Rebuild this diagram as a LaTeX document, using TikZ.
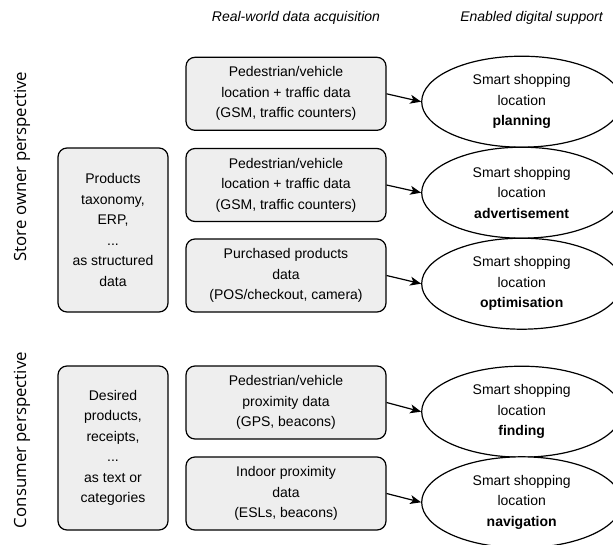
\documentclass[tikz,border=0pt]{standalone}
\usepackage{fontspec}
\setmainfont{Liberation Sans}
\newfontfamily\labfont{Open Sans}
\usetikzlibrary{shapes.geometric,arrows.meta}
\definecolor{boxfill}{HTML}{EEEEEE}
\tikzset{
  x=1pt,y=-1pt,
  txt/.style={font=\fontsize{14}{20.5}\selectfont, align=center},
  databox/.style={txt, draw=black, fill=boxfill, line width=1.2pt, rounded corners=9pt,
    minimum width=200pt, minimum height=73pt, inner sep=0pt},
  srcbox/.style={txt, draw=black, fill=boxfill, line width=1.2pt, rounded corners=9pt,
    minimum width=110pt, minimum height=164pt, inner sep=0pt},
  goal/.style={txt, ellipse, draw=black, fill=white, line width=1.2pt,
    minimum width=200pt, minimum height=91pt, inner sep=0pt},
  hdr/.style={font=\fontsize{14}{17}\selectfont\itshape},
  persp/.style={font=\labfont\fontsize{16.8}{20}\selectfont, rotate=90},
  arr/.style={line width=1.2pt, -{Stealth[length=11pt,width=9pt,inset=3pt]}}
}
\begin{document}
\begin{tikzpicture}
\useasboundingbox (0,0) rectangle (613,544);
\node[hdr] (h1) at (296,18) {Real-world data acquisition};
\node[hdr] (h2) at (531.5,18) {Enabled digital support};

\node[persp] (p1) at (22,166.5) {Store owner perspective};
\node[persp] (p2) at (22,440) {Consumer perspective};

\node[srcbox] (l1) at (113,230) {Products\\taxonomy,\\ERP,\\...\\as structured\\data};
\node[srcbox] (l2) at (113,448) {Desired\\products,\\receipts,\\...\\as text or\\categories};

\node[databox] (b1) at (286,93.8) {Pedestrian/vehicle\\location + traffic data\\(GSM, traffic counters)};
\node[databox] (b2) at (286,185) {Pedestrian/vehicle\\location + traffic data\\(GSM, traffic counters)};
\node[databox] (b3) at (286,275.5) {Purchased products\\data\\(POS/checkout, camera)};
\node[databox] (b4) at (286,402.5) {Pedestrian/vehicle\\proximity data\\(GPS, beacons)};
\node[databox] (b5) at (286,493.5) {Indoor proximity\\data\\(ESLs, beacons)};

\node[goal] (e1) at (521.7,101.7) {Smart shopping\\location\\\textbf{planning}};
\node[goal] (e2) at (521.7,192.7) {Smart shopping\\location\\\textbf{advertisement}};
\node[goal] (e3) at (521.7,283.7) {Smart shopping\\location\\\textbf{optimisation}};
\node[goal] (e4) at (521.7,411.7) {Smart shopping\\location\\\textbf{finding}};
\node[goal] (e5) at (521.7,502.3) {Smart shopping\\location\\\textbf{navigation}};

\draw[arr] (b1.east) -- (e1.west);
\draw[arr] (b2.east) -- (e2.west);
\draw[arr] (b3.east) -- (e3.west);
\draw[arr] (b4.east) -- (e4.west);
\draw[arr] (b5.east) -- (e5.west);
\end{tikzpicture}
\end{document}
